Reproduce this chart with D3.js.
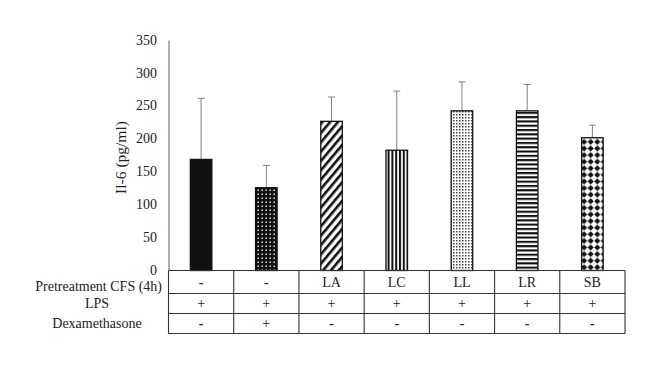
<!DOCTYPE html>
<html><head><meta charset="utf-8">
<script src="https://cdn.jsdelivr.net/npm/d3@7"></script>
<style>body{margin:0;background:#fff}svg{display:block}text{font-family:"Liberation Serif","Times New Roman",serif;fill:#222}</style>
</head><body><svg id="c" width="660" height="369"></svg>
<script>
const categories = ["LA0","DEX","LA","LC","LL","LR","SB"];
const means = [169, 126, 227, 183, 243, 243, 202];
const errUpper = [262, 160, 264, 273, 287, 283, 221];
const patterns = ["solid","whitedots","diag","vert","finedots","horiz","diamonds"];
const yTicks = [0,50,100,150,200,250,300,350];
const rowLabels = ["Pretreatment CFS (4h)","LPS","Dexamethasone"];
const rowPretreat = ["-","-","LA","LC","LL","LR","SB"];
const rowLPS = ["+","+","+","+","+","+","+"];
const rowDex = ["-","+","-","-","-","-","-"];

const svg = d3.select("#c");
const x0 = 168.5, x1 = 625, yTop = 40.5, yBase = 270.5;
const x = d3.scaleBand().domain(categories).range([x0, x1]).paddingInner(0.67).paddingOuter(0.335);
const y = d3.scaleLinear().domain([0,350]).range([yBase, yTop]);

const defs = svg.append("defs");
function pat(id, w, h, build, transform){
  const p = defs.append("pattern").attr("id",id).attr("patternUnits","userSpaceOnUse").attr("width",w).attr("height",h);
  if (transform) p.attr("patternTransform", transform);
  build(p);
}
pat("whitedots",4,4,p=>{p.append("rect").attr("width",4).attr("height",4).attr("fill","#111");p.append("rect").attr("x",1.5).attr("y",1.5).attr("width",1.4).attr("height",1.4).attr("fill","#fff");});
pat("diag",6,6,p=>{p.append("rect").attr("width",6).attr("height",6).attr("fill","#fff");p.append("rect").attr("x",0).attr("y",0).attr("width",2.6).attr("height",6).attr("fill","#111");},"rotate(40)");
pat("vert",3.8,4,p=>{p.append("rect").attr("width",3.8).attr("height",4).attr("fill","#fff");p.append("rect").attr("width",2).attr("height",4).attr("fill","#111");});
pat("finedots",3,3,p=>{p.append("rect").attr("width",3).attr("height",3).attr("fill","#fff");p.append("rect").attr("width",1.5).attr("height",1.5).attr("fill","#444");});
pat("horiz",4,4.3,p=>{p.append("rect").attr("width",4).attr("height",4.3).attr("fill","#fff");p.append("rect").attr("width",4).attr("height",2.1).attr("fill","#111");});
pat("diamonds",6.6,6.6,p=>{p.append("rect").attr("width",6.6).attr("height",6.6).attr("fill","#fff");p.append("path").attr("d","M3.3,0.2 L6.4,3.3 L3.3,6.4 L0.2,3.3Z").attr("fill","#111");});

// y axis
svg.append("line").attr("x1",x0+0.5).attr("x2",x0+0.5).attr("y1",yTop).attr("y2",yBase).attr("stroke","#7a7a7a").attr("stroke-width",1.2);
svg.selectAll(".yt").data(yTicks).join("text").attr("x",157).attr("y",d=>y(d)).attr("dy","0.3em")
  .attr("text-anchor","end").attr("font-size",14).text(d=>d);
svg.append("text").attr("transform",`translate(126,${(yTop+yBase)/2 + 2}) rotate(-90)`).attr("text-anchor","middle")
  .attr("font-size",15.5).text("Il-6 (pg/ml)");

// error bars
const bw = x.bandwidth();
const eb = svg.append("g").attr("stroke","#808080").attr("stroke-width",1);
categories.forEach((c,i)=>{
  const cx = x(c)+bw/2;
  eb.append("line").attr("x1",cx).attr("x2",cx).attr("y1",y(means[i])).attr("y2",y(errUpper[i]));
  eb.append("line").attr("x1",cx-3.5).attr("x2",cx+3.5).attr("y1",y(errUpper[i])).attr("y2",y(errUpper[i]));
});
// bars
svg.selectAll(".bar").data(categories).join("rect")
  .attr("x",c=>x(c)).attr("width",bw)
  .attr("y",(c,i)=>y(means[i])).attr("height",(c,i)=>yBase-y(means[i]))
  .attr("fill",(c,i)=>patterns[i]==="solid"?"#111":`url(#${patterns[i]})`)
  .attr("stroke","#111").attr("stroke-width",1.3);

// table
const rowY = [yBase, 293.5, 313.5, 333.5];
const tg = svg.append("g").attr("stroke","#333").attr("stroke-width",1.1);
rowY.forEach(yy=>tg.append("line").attr("x1",x0).attr("x2",x1).attr("y1",yy).attr("y2",yy));
for (let k=0;k<=categories.length;k++){
  const xx = x0 + k*((x1-x0)/categories.length);
  tg.append("line").attr("x1",xx).attr("x2",xx).attr("y1",yBase).attr("y2",rowY[3]);
}
const rows = [rowPretreat,rowLPS,rowDex];
rows.forEach((r,ri)=>{
  const cy = (rowY[ri]+rowY[ri+1])/2;
  svg.append("text").attr("x",ri===0?162:97).attr("y",cy + (ri===0?4:0)).attr("dy","0.35em").attr("text-anchor",ri===0?"end":"middle").attr("font-size",14).text(rowLabels[ri]);
  r.forEach((v,i)=>{
    svg.append("text").attr("x",x(categories[i])+bw/2).attr("y",cy).attr("dy","0.35em").attr("text-anchor","middle")
      .attr("font-size",14).attr("font-weight",v==="-"?"bold":"normal").text(v);
  });
});
</script></body></html>
